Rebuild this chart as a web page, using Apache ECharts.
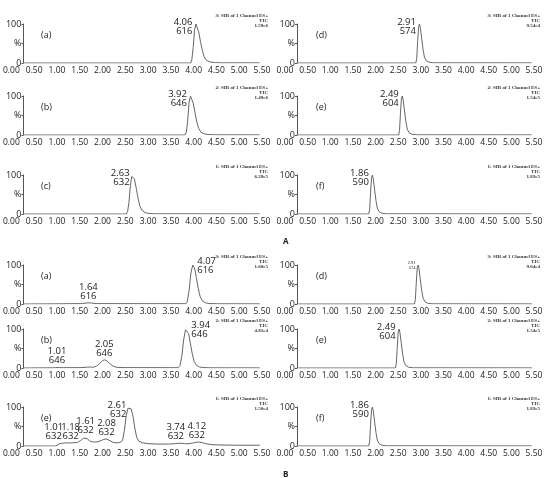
<!DOCTYPE html>
<html>
<head>
<meta charset="utf-8">
<script src="https://cdn.jsdelivr.net/npm/echarts@6/dist/echarts.min.js"></script>
<style>
html, body { margin: 0; padding: 0; background: #fff; }
#main { width: 550px; height: 478px; }
</style>
</head>
<body>
<div id="main"></div>
<script>
// retention time (min) and relative intensity (%)
// A: standards
var tAa = [0.26, 3.93, 3.96, 3.99, 4.02, 4.05, 4.08, 4.11, 4.15, 4.19, 4.23, 4.28, 4.36, 4.48, 4.60, 5.45];
var yAa = [0, 0, 8, 40, 85, 100, 96, 80, 55, 32, 16, 7, 2.5, 1, 0.5, 0.3];
var tAb = [0.26, 3.81, 3.84, 3.87, 3.90, 3.93, 3.96, 3.99, 4.03, 4.07, 4.11, 4.16, 4.24, 4.36, 4.48, 5.45];
var yAb = [0, 0, 7, 38, 84, 100, 97, 82, 57, 33, 17, 7, 2.5, 1, 0.5, 0.3];
var tAc = [0.26, 2.52, 2.55, 2.58, 2.61, 2.64, 2.67, 2.70, 2.74, 2.78, 2.82, 2.87, 2.93, 3.01, 3.15, 5.45];
var yAc = [0, 0, 6, 30, 72, 96, 100, 90, 66, 40, 20, 9, 3.5, 1.5, 0.5, 0.3];
var tAd = [0.26, 2.89, 2.91, 2.93, 2.95, 2.97, 2.99, 3.02, 3.05, 3.08, 3.12, 3.18, 3.28, 5.45];
var yAd = [0, 0, 12, 55, 92, 100, 90, 62, 34, 15, 6, 2, 0.5, 0.3];
var tAe = [0.26, 2.51, 2.53, 2.55, 2.57, 2.59, 2.61, 2.64, 2.67, 2.70, 2.74, 2.80, 2.90, 5.45];
var yAe = [0, 0, 12, 55, 92, 100, 90, 62, 34, 15, 6, 2, 0.5, 0.3];
var tAf = [0.26, 1.85, 1.87, 1.89, 1.91, 1.93, 1.95, 1.98, 2.01, 2.04, 2.08, 2.14, 2.24, 5.45];
var yAf = [0, 0, 12, 55, 92, 100, 90, 62, 34, 15, 6, 2, 0.5, 0.3];

// B: samples
var tBa = [0.26, 1.00, 1.56, 1.64, 1.70, 1.76, 1.86, 3.00, 3.83, 3.86, 3.90, 3.94, 3.98, 4.02, 4.06, 4.10, 4.14, 4.19, 4.26, 4.36, 4.51, 5.45];
var yBa = [0, 0.5, 1, 2.5, 3, 2.5, 1, 0.8, 0.8, 6, 35, 80, 100, 92, 68, 40, 20, 8, 3, 1.2, 0.6, 0.4];
var tBb = [0.26, 0.90, 0.97, 1.01, 1.05, 1.15, 1.55, 1.65, 1.72, 1.80, 1.87, 1.94, 2.00, 2.05, 2.10, 2.16, 2.23, 2.30, 2.45, 3.50, 3.66, 3.70, 3.74, 3.78, 3.82, 3.85, 3.89, 3.93, 3.97, 4.01, 4.06, 4.13, 4.23, 4.40, 5.45];
var yBb = [0, 0.5, 1, 1.5, 1, 0.8, 1, 2, 2.5, 2, 5, 12, 19, 21, 18, 11, 5, 2, 1, 0.8, 0.8, 6, 30, 72, 98, 100, 88, 62, 36, 17, 7, 2.5, 1, 0.5, 0.3];
var tBc = [0.26, 0.97, 1.01, 1.06, 1.12, 1.18, 1.30, 1.45, 1.52, 1.58, 1.61, 1.66, 1.73, 1.82, 1.90, 1.97, 2.03, 2.08, 2.14, 2.22, 2.30, 2.38, 2.44, 2.48, 2.52, 2.56, 2.60, 2.63, 2.67, 2.71, 2.75, 2.80, 2.88, 3.00, 3.20, 3.45, 3.60, 3.68, 3.74, 3.80, 3.90, 4.00, 4.07, 4.12, 4.18, 4.26, 4.40, 4.60, 5.00, 5.45];
var yBc = [0, 0, 3, 6, 7, 8, 8, 9, 14, 20, 22, 19, 12, 10, 11, 14, 17, 18, 15, 10, 8, 9, 14, 40, 78, 97, 100, 95, 75, 45, 22, 12, 8, 6, 5, 5, 6, 7, 7, 6, 6, 8, 10, 10, 9, 6, 3.5, 2.5, 2, 2];
var tBd = [0.26, 2.86, 2.88, 2.90, 2.92, 2.94, 2.96, 2.99, 3.02, 3.05, 3.09, 3.15, 3.25, 5.45];
var yBd = [0, 0, 12, 55, 92, 100, 90, 62, 34, 15, 6, 2, 0.5, 0.3];
var tBe = [0.26, 2.44, 2.46, 2.48, 2.50, 2.52, 2.54, 2.57, 2.60, 2.63, 2.67, 2.73, 2.83, 5.45];
var yBe = [0, 0, 12, 55, 92, 100, 90, 62, 34, 15, 6, 2, 0.5, 0.3];
var tBf = [0.26, 1.85, 1.87, 1.89, 1.91, 1.93, 1.95, 1.98, 2.01, 2.04, 2.08, 2.14, 2.24, 5.45];
var yBf = [0, 0, 12, 55, 92, 100, 90, 62, 34, 15, 6, 2, 0.5, 0.3];

// peak annotations: [time, mass, anchor time, anchor %, placement]
var pkAa = [['4.06', '616', 4.05, 100, 'L']];
var pkAb = [['3.92', '646', 3.93, 100, 'L']];
var pkAc = [['2.63', '632', 2.67, 100, 'L']];
var pkAd = [['2.91', '574', 2.97, 100, 'L']];
var pkAe = [['2.49', '604', 2.59, 100, 'L']];
var pkAf = [['1.86', '590', 1.93, 100, 'L']];
var pkBa = [['1.64', '616', 1.70, 3, 'C'], ['4.07', '616', 3.98, 100, 'R']];
var pkBb = [['1.01', '646', 1.01, 1.5, 'C'], ['2.05', '646', 2.05, 21, 'C'], ['3.94', '646', 3.85, 100, 'R']];
var pkBc = [['1.01', '632', 0.94, 8, 'C'], ['1.18', '632', 1.31, 8, 'C'], ['1.61', '632', 1.64, 22, 'C'],
            ['2.08', '632', 2.10, 18, 'C'], ['2.61', '632', 2.60, 100, 'L'], ['3.74', '632', 3.62, 7, 'C'], ['4.12', '632', 4.08, 10, 'C']];
var pkBd = [['2.91', '574', 2.94, 100, 'S']];
var pkBe = [['2.49', '604', 2.52, 100, 'L']];
var pkBf = [['1.86', '590', 1.93, 100, 'L']];

var tags = ['(a)', '(b)', '(c)', '(d)', '(e)', '(f)', '(a)', '(b)', '(e)', '(d)', '(e)', '(f)'];
var channels = ['3', '2', '1', '3', '2', '1', '3', '2', '1', '3', '2', '1'];
var scales = ['1.59e6', '1.49e6', '6.29e5', '9.54e4', '1.54e5', '1.83e5', '1.60e5', '4.81e4', '1.50e4', '9.04e4', '1.54e5', '1.83e5'];
var xTicks = ['0.00', '0.50', '1.00', '1.50', '2.00', '2.50', '3.00', '3.50', '4.00', '4.50', '5.00', '5.50'];

var traces = [[tAa, yAa, pkAa], [tAb, yAb, pkAb], [tAc, yAc, pkAc],
              [tAd, yAd, pkAd], [tAe, yAe, pkAe], [tAf, yAf, pkAf],
              [tBa, yBa, pkBa], [tBb, yBb, pkBb], [tBc, yBc, pkBc],
              [tBd, yBd, pkBd], [tBe, yBe, pkBe], [tBf, yBf, pkBf]];

// panel layout (px)
var colLeft = [10, 285];
var colWidth = [252, 249];
var rowTop = [24, 96, 175, 265, 329, 407];
var plotH = 39;

var font = '"Open Sans", sans-serif';
var myChart = echarts.init(document.getElementById('main'));

var grids = [], xAxes = [], yAxes = [], series = [];
var titles = [
    { text: 'A', left: 278, top: 233, textStyle: { fontSize: 8, fontWeight: 'bold', color: '#222', fontFamily: font } },
    { text: 'B', left: 278, top: 466, textStyle: { fontSize: 8, fontWeight: 'bold', color: '#222', fontFamily: font } }
];

function peakLabel(p) {
    var lab = { show: true, formatter: p[0] + '\n' + p[1], color: '#222', fontSize: 9.5, lineHeight: 9, fontFamily: font };
    if (p[4] == 'L') {
        lab.position = [-3, -6]; lab.align = 'right'; lab.verticalAlign = 'top';
    } else if (p[4] == 'R') {
        lab.position = [5, -8]; lab.align = 'left'; lab.verticalAlign = 'top';
    } else if (p[4] == 'S') {
        lab.position = [-2, -4]; lab.align = 'right'; lab.verticalAlign = 'top';
        lab.fontSize = 4.5; lab.lineHeight = 5; lab.fontFamily = 'Liberation Serif';
    } else {
        lab.position = [0, -2]; lab.align = 'center'; lab.verticalAlign = 'bottom';
    }
    return { coord: [p[2], p[3]], label: lab };
}

traces.forEach(function (tr, i) {
    var col = i < 6 ? (i < 3 ? 0 : 1) : (i < 9 ? 0 : 1);
    var row = (i < 6 ? 0 : 3) + (i % 3);
    var top = rowTop[row];
    grids.push({ left: colLeft[col], width: colWidth[col], top: top, height: plotH });
    xAxes.push({
        gridIndex: i, type: 'value', min: 0, max: 5.5, interval: 0.5,
        axisLine: { show: false }, axisTick: { show: false }, splitLine: { show: false },
        axisLabel: {
            margin: 3, fontSize: 8.5, color: '#222', fontFamily: font,
            formatter: function (v) { return xTicks[Math.round(v * 2)]; }
        }
    });
    yAxes.push({
        gridIndex: i, type: 'value', min: 0, max: 100, interval: 50, offset: -12,
        axisLine: { show: true, lineStyle: { color: '#555', width: 1 } },
        axisTick: { show: true, length: 2, lineStyle: { color: '#555' } },
        splitLine: { show: false },
        axisLabel: {
            margin: 2, fontSize: 9, color: '#222', fontFamily: font,
            formatter: function (v) { return v == 100 ? '100' : (v == 50 ? '%' : '0'); }
        }
    });
    series.push({
        type: 'line', xAxisIndex: i, yAxisIndex: i, showSymbol: false, silent: true,
        lineStyle: { color: '#666', width: 1 },
        data: tr[0].map(function (t, k) { return [t, tr[1][k]]; }),
        markPoint: {
            symbol: 'circle', symbolSize: 1, silent: true,
            itemStyle: { color: 'rgba(0,0,0,0)' },
            data: tr[2].map(peakLabel)
        }
    });
    var rightEdge = colLeft[col] + colWidth[col] + 6;
    titles.push({
        text: channels[i] + ': SIR of 1 Channel ES+\nTIC\n' + scales[i],
        left: rightEdge, top: top - 11, textAlign: 'right', padding: 0,
        textStyle: { fontSize: 5, lineHeight: 5, fontWeight: 'bold', color: '#333', fontFamily: 'Liberation Serif' }
    });
    titles.push({
        text: tags[i], left: colLeft[col] + 26, top: top + 2,
        textStyle: { fontSize: 9, fontWeight: 'normal', color: '#222', fontFamily: font }
    });
});

var option = {
    animation: false,
    title: titles,
    grid: grids,
    xAxis: xAxes,
    yAxis: yAxes,
    series: series
};
myChart.setOption(option);
</script>
</body>
</html>
